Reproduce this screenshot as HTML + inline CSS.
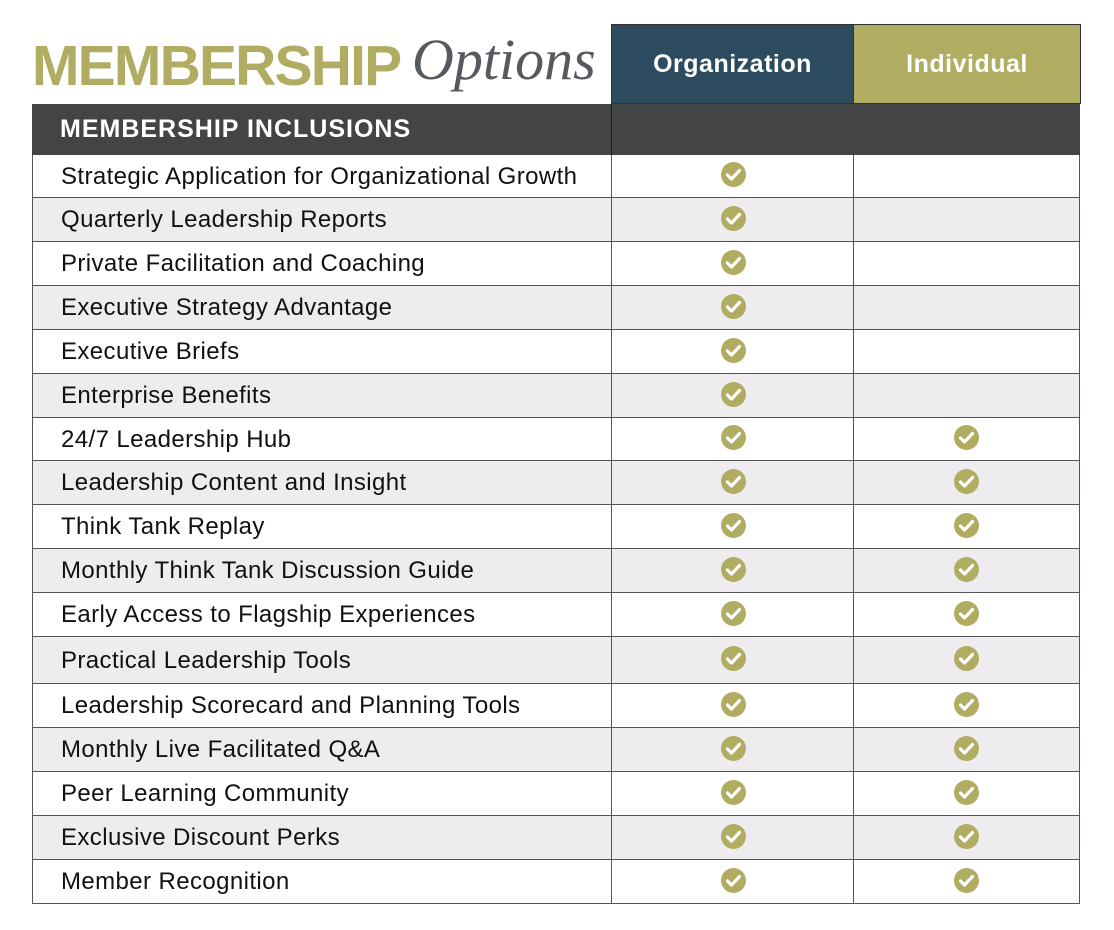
<!DOCTYPE html>
<html><head><meta charset="utf-8"><style>
body{margin:0;width:1114px;height:930px;background:#fff;position:relative;overflow:hidden;font-family:"Liberation Sans",sans-serif}
.a{position:absolute}
.title{left:32px;top:33px;font-size:57px;font-weight:bold;color:#b0ad62;letter-spacing:-1.8px}
.opt{left:412px;top:26px;font-family:"Liberation Serif",serif;font-style:italic;font-size:58px;color:#555a60;letter-spacing:0px}
.hc{top:24px;height:80px;color:#fff;font-weight:bold;font-size:25px;letter-spacing:0.5px;display:flex;align-items:center;justify-content:center;box-sizing:border-box;border:1px solid #333}
.row{left:32px;width:1048px;box-sizing:border-box;border:1px solid #555;border-top:none}
.lbl{position:absolute;left:28px;font-size:24px;color:#111;letter-spacing:0.4px}
.vl{position:absolute;top:0;bottom:0;width:1px;background:#555}
.ck{position:absolute;width:25px;height:25px;border-radius:50%;background:#b0ad62}
.ck svg{position:absolute;left:0;top:0}
</style></head><body>
<div class="a title">MEMBERSHIP</div>
<div class="a opt">Options</div>
<div class="a hc" style="left:611px;width:243px;background:#2d4b5e">Organization</div>
<div class="a hc" style="left:853px;width:228px;background:#b0ad62">Individual</div>
<div class="a" style="left:32px;top:104px;width:1048px;height:51px;background:#434445"></div>
<div class="a" style="left:611px;top:104px;width:1px;height:51px;background:#222"></div>
<div class="a" style="left:60px;top:115px;color:#fff;font-weight:bold;font-size:25px;letter-spacing:1px">MEMBERSHIP INCLUSIONS</div>
<div id="rows"></div>
<script>
var items=["Strategic Application for Organizational Growth","Quarterly Leadership Reports","Private Facilitation and Coaching","Executive Strategy Advantage","Executive Briefs","Enterprise Benefits","24/7 Leadership Hub","Leadership Content and Insight","Think Tank Replay","Monthly Think Tank Discussion Guide","Early Access to Flagship Experiences","Practical Leadership Tools","Leadership Scorecard and Planning Tools","Monthly Live Facilitated Q&A","Peer Learning Community","Exclusive Discount Perks","Member Recognition"];
var ys=[155,198,242,286,330,374,418,461,505,549,593,637,684,728,772,816,860,904];
var ck='<svg width="25" height="25"><path d="M6.5 13 L10.5 17 L18.5 8.5" fill="none" stroke="#fff" stroke-width="3.2" stroke-linecap="round" stroke-linejoin="round"/></svg>';
var h='';
for(var i=0;i<items.length;i++){
 var t=ys[i],hh=ys[i+1]-t;
 h+='<div class="a row" style="top:'+t+'px;height:'+hh+'px;background:'+(i%2?'#eeecef':'#fff')+'">';
 h+='<div class="vl" style="left:578px"></div><div class="vl" style="left:820px"></div>';
 h+='<div class="lbl" style="top:'+((hh-28)/2)+'px">'+items[i].replace('&','&amp;')+'</div>';
 var cy=(hh-25)/2-2;
 h+='<div class="ck" style="left:688px;top:'+cy+'px">'+ck+'</div>';
 if(i>=6)h+='<div class="ck" style="left:921px;top:'+cy+'px">'+ck+'</div>';
 h+='</div>';
}
document.getElementById('rows').innerHTML=h;
</script>
</body></html>
